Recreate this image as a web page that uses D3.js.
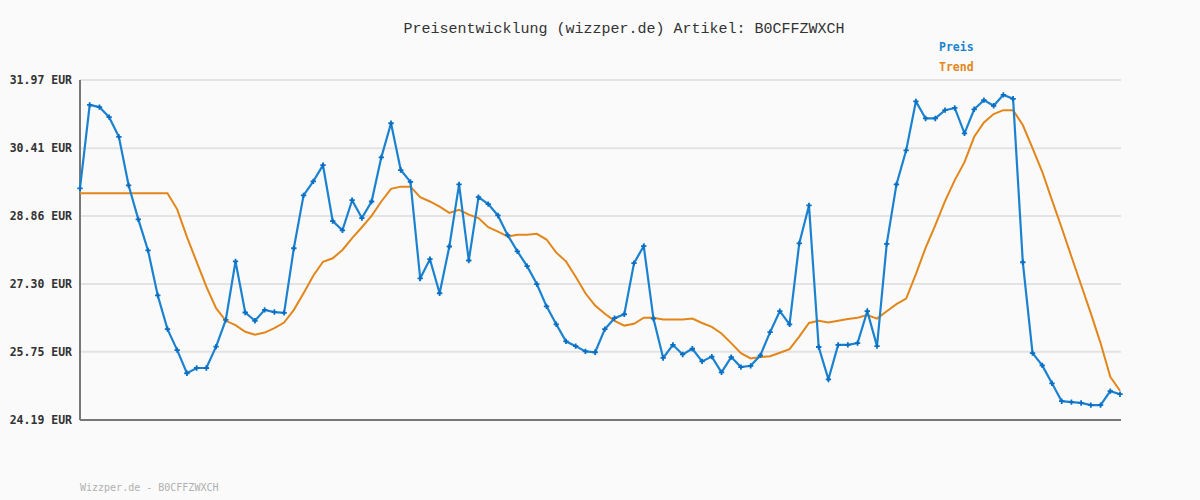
<!DOCTYPE html>
<html>
<head>
<meta charset="utf-8">
<script src="https://cdn.jsdelivr.net/npm/d3@7"></script>
<style>
  body { margin: 0; background: #fafafa; }
  svg { display: block; }
</style>
</head>
<body>
<div id="viz"></div>
<script>
    //Width and height
    var width = 1200;
    var height = 500;

    var margin = { top: 80, bottom: 80, left: 80, right: 80 }

    var innerWidth = width - margin.left - margin.right
    var innerHeight = 340

    // price per data point
    var preis = [
        29.49, 31.40, 31.35, 31.12, 30.67, 29.56, 28.78, 28.07, 27.04, 26.27,
        25.79, 25.26, 25.38, 25.38, 25.87, 26.48, 27.82, 26.65, 26.46, 26.71,
        26.66, 26.64, 28.12, 29.33, 29.65, 30.02, 28.74, 28.53, 29.22, 28.81,
        29.19, 30.20, 30.98, 29.91, 29.64, 27.43, 27.87, 27.09, 28.16, 29.58,
        27.84, 29.29, 29.13, 28.87, 28.42, 28.05, 27.71, 27.30, 26.79, 26.38,
        25.99, 25.88, 25.76, 25.74, 26.27, 26.52, 26.61, 27.78, 28.17, 26.51,
        25.61, 25.91, 25.69, 25.82, 25.53, 25.64, 25.28, 25.63, 25.40, 25.43,
        25.67, 26.20, 26.68, 26.38, 28.23, 29.10, 25.86, 25.12, 25.91, 25.91,
        25.95, 26.68, 25.88, 28.22, 29.58, 30.36, 31.48, 31.09, 31.09, 31.28,
        31.33, 30.75, 31.30, 31.51, 31.38, 31.63, 31.54, 27.80, 25.72, 25.44,
        25.03, 24.62, 24.60, 24.58, 24.53, 24.53, 24.85, 24.78
    ];

    // trend line
    var trend = [
        29.38, 29.38, 29.38, 29.38, 29.38, 29.38, 29.38, 29.38, 29.38, 29.38,
        29.01, 28.38, 27.81, 27.24, 26.75, 26.46, 26.36, 26.21, 26.14, 26.19,
        26.29, 26.42, 26.71, 27.09, 27.49, 27.81, 27.89, 28.08, 28.35, 28.60,
        28.86, 29.19, 29.48, 29.53, 29.53, 29.29, 29.19, 29.07, 28.93, 29.00,
        28.89, 28.81, 28.60, 28.50, 28.39, 28.43, 28.43, 28.45, 28.32, 28.02,
        27.82, 27.47, 27.09, 26.81, 26.62, 26.46, 26.35, 26.39, 26.53, 26.53,
        26.49, 26.49, 26.49, 26.51, 26.41, 26.32, 26.17, 25.95, 25.72, 25.60,
        25.63, 25.65, 25.73, 25.81, 26.10, 26.41, 26.46, 26.42, 26.46, 26.50,
        26.53, 26.59, 26.51, 26.68, 26.84, 26.97, 27.53, 28.13, 28.65, 29.20,
        29.68, 30.09, 30.67, 31.00, 31.19, 31.28, 31.28, 30.94, 30.41, 29.87,
        29.22, 28.59, 27.93, 27.28, 26.63, 25.95, 25.18, 24.86
    ];

    var yTicks = [24.19, 25.75, 27.30, 28.86, 30.41, 31.97]
    var seriesNames = ['Preis', 'Trend']
    var seriesColors = ['#1a82d0', '#e3861a']

    var titleText = 'Preisentwicklung (wizzper.de) Artikel: B0CFFZWXCH'
    var footerText = 'Wizzper.de - B0CFFZWXCH'

    var svg = d3.select("#viz")
                .append("svg")
                .attr("width", width)
                .attr("height", height)
                .style('background', '#fafafa');

    var g = svg
        .append('g')
        .attr('transform', 'translate(' + margin.left + ', ' + margin.top + ')');

    var xScale = d3.scaleLinear()
                    .domain([0, preis.length - 1])
                    .range([0, innerWidth])

    var yScale = d3.scaleLinear()
                    .domain([24.19, 31.97])
                    .range([innerHeight, 0])

    // grid lines
    g.selectAll('.grid')
        .data(yTicks)
        .enter()
        .append('line')
        .attr('class', 'grid')
        .attr('x1', 0)
        .attr('x2', innerWidth + 1)
        .attr('y1', d => yScale(d))
        .attr('y2', d => yScale(d))
        .attr('stroke', '#e3e3e3')
        .attr('stroke-width', 2);

    var yAxis = d3.axisLeft(yScale)
        .tickValues(yTicks)
        .tickSize(0)
        .tickPadding(8)
        .tickFormat(d => d.toFixed(2) + ' EUR');

    var yAxisG = g.append('g')
        .attr('class', 'y-axis')
        .call(yAxis);
    yAxisG.select('.domain').remove();
    yAxisG.selectAll('text')
        .attr('fill', '#333')
        .style('font-family', '"DejaVu Sans Mono", monospace')
        .style('font-weight', 'bold')
        .style('font-size', '11.5px');

    // axis frame
    g.append('line')
        .attr('x1', 0).attr('x2', 0)
        .attr('y1', 0).attr('y2', innerHeight)
        .attr('stroke', '#777').attr('stroke-width', 2);
    g.append('line')
        .attr('x1', 0).attr('x2', innerWidth + 1)
        .attr('y1', innerHeight).attr('y2', innerHeight)
        .attr('stroke', '#777').attr('stroke-width', 2);

    var line = d3.line()
        .x((d, i) => xScale(i))
        .y(d => yScale(d));

    g.append('path')
        .datum(trend)
        .attr('fill', 'none')
        .attr('stroke', seriesColors[1])
        .attr('stroke-width', 2)
        .attr('d', line);

    g.append('path')
        .datum(preis)
        .attr('fill', 'none')
        .attr('stroke', seriesColors[0])
        .attr('stroke-width', 2.2)
        .attr('d', line);

    var marker = d3.symbol().type(d3.symbolCross).size(16);
    g.selectAll('.pt')
        .data(preis)
        .enter()
        .append('path')
        .attr('class', 'pt')
        .attr('d', marker)
        .attr('transform', (d, i) => 'translate(' + xScale(i) + ',' + yScale(d) + ')')
        .attr('fill', '#0a6fc2');

    // title
    svg.append('text')
        .attr('x', 624)
        .attr('y', 33)
        .attr('text-anchor', 'middle')
        .attr('fill', '#333')
        .style('font-family', '"Liberation Mono", monospace')
        .style('font-size', '15px')
        .text(titleText);

    // legend
    svg.selectAll('.legend')
        .data(seriesNames)
        .enter()
        .append('text')
        .attr('class', 'legend')
        .attr('x', 939)
        .attr('y', (d, i) => 51 + i * 20)
        .attr('fill', (d, i) => seriesColors[i])
        .style('font-family', '"DejaVu Sans Mono", monospace')
        .style('font-weight', 'bold')
        .style('font-size', '11.5px')
        .text(d => d);

    // footer
    svg.append('text')
        .attr('x', 80)
        .attr('y', 491)
        .attr('fill', '#b0b0b0')
        .style('font-family', '"DejaVu Sans Mono", monospace')
        .style('font-size', '10px')
        .text(footerText);
</script>
</body>
</html>
